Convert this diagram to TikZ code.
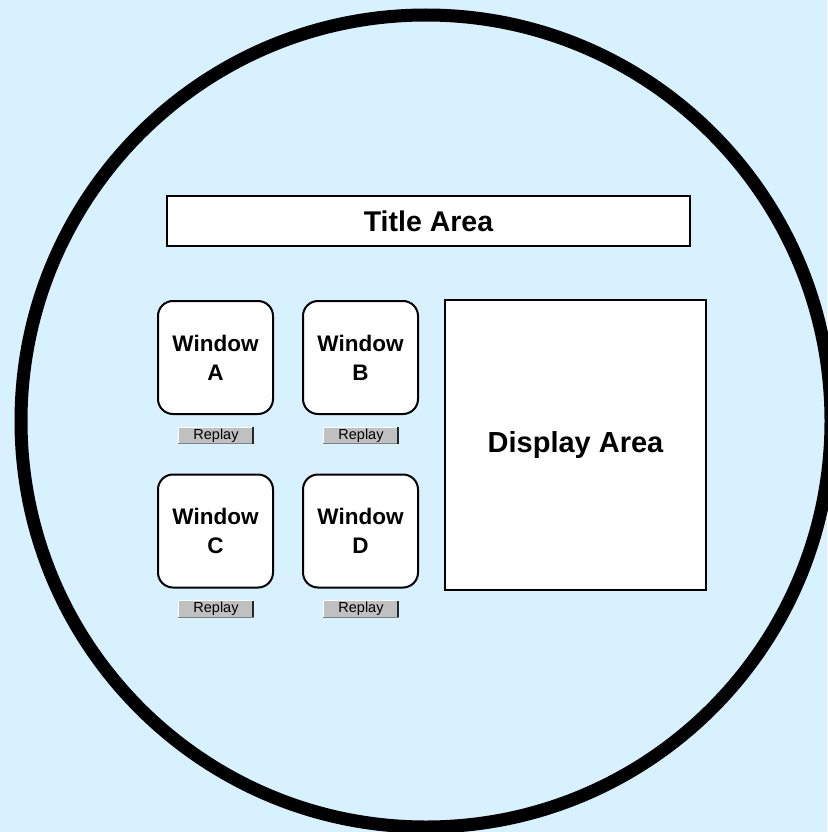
\documentclass[tikz,border=0pt]{standalone}
\usepackage{fontspec}
\setmainfont{Liberation Sans}
\definecolor{skyback}{HTML}{D8F1FF}
\definecolor{btngray}{HTML}{C0C0C0}
\definecolor{btnshade}{HTML}{808080}
\tikzset{
  areabox/.style={draw=black, line width=2pt, fill=white, inner sep=0pt},
  winbox/.style={draw=black, line width=2pt, fill=white, rounded corners=15pt,
    minimum width=115pt, minimum height=113pt, inner sep=0pt, align=center,
    font=\fontsize{22.5}{29}\selectfont\bfseries},
  replaybtn/.style={fill=btngray, minimum width=75pt, minimum height=16pt, inner sep=0pt,
    font=\fontsize{14.5}{14.5}\selectfont},
}
\newcommand{\btnedges}[1]{%
  \draw[white, line width=1pt] (#1.south west) -- (#1.north west) -- (#1.north east);
  \draw[btnshade, line width=1pt] (#1.south west) -- (#1.south east);
  \draw[black!85, line width=2pt] ([xshift=-1pt]#1.north east) -- ([xshift=-1pt]#1.south east);
}
\begin{document}
\begin{tikzpicture}[x=1pt,y=-1pt]
  % page background
  \fill[skyback] (0,0) rectangle (827,832);
  \useasboundingbox (0,0) rectangle (827,832);

  % outer ring
  \draw[line width=13pt] (426,421) ellipse [x radius=405, y radius=406];

  % title bar
  \node[areabox, minimum width=523pt, minimum height=50pt,
        font=\fontsize{28.5}{28.5}\selectfont\bfseries] (title) at (428.5,221) {Title Area};

  % display panel
  \node[areabox, minimum width=261pt, minimum height=290pt,
        font=\fontsize{29}{29}\selectfont\bfseries] (display) at (575.5,445) {Display Area};

  % four windows
  \node[winbox] (winA) at (215.5,357.5) {Window\\A};
  \node[winbox] (winB) at (360.5,357.5) {Window\\B};
  \node[winbox] (winC) at (215.5,531) {Window\\C};
  \node[winbox] (winD) at (360.5,531) {Window\\D};

  % replay buttons
  \node[replaybtn] (repA) at (216,435.5) {Replay};
  \node[replaybtn] (repB) at (361,435.5) {Replay};
  \node[replaybtn] (repC) at (216,609) {Replay};
  \node[replaybtn] (repD) at (361,609) {Replay};
  \btnedges{repA}
  \btnedges{repB}
  \btnedges{repC}
  \btnedges{repD}
\end{tikzpicture}
\end{document}
